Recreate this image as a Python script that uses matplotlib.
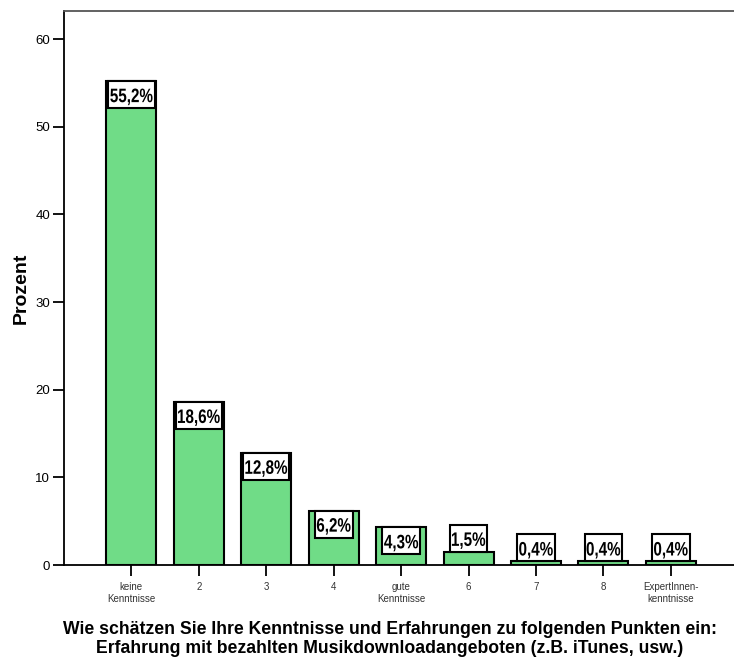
import matplotlib.pyplot as plt
from matplotlib.textpath import TextPath
from matplotlib.font_manager import FontProperties
from matplotlib.patches import PathPatch, Rectangle
from matplotlib.transforms import Affine2D, ScaledTranslation

plt.rcParams['font.family'] = ['Liberation Sans', 'DejaVu Sans']

categories = ["keine\nKenntnisse", "2", "3", "4", "gute\nKenntnisse", "6", "7", "8",
              "ExpertInnen-\nkenntnisse"]
percent = [55.2, 18.6, 12.8, 6.2, 4.3, 1.5, 0.4, 0.4, 0.4]
labels = ["55,2%", "18,6%", "12,8%", "6,2%", "4,3%", "1,5%", "0,4%", "0,4%", "0,4%"]

fig = plt.figure(figsize=(7.34, 6.64), dpi=100)
ax = fig.add_axes([64/734, 99/664, 681/734, 554/664])

x = range(len(categories))
ax.bar(x, percent, width=0.74, color="#70dc87", edgecolor="black", linewidth=1.5)

# condensed bold labels in boxes (SPSS look), sizes in pixels
fp = FontProperties(family="Liberation Sans", weight="bold")
sx = 0.78      # horizontal squeeze
box_h = 27
for i, (v, lab) in enumerate(zip(percent, labels)):
    tp = TextPath((0, 0), lab, size=19.5, prop=fp)
    ext = tp.get_extents()
    tw = ext.width * sx
    bw = tw + 4
    anchor = ScaledTranslation(i, v, ax.transData)
    if v > 3:
        y0 = -box_h
    else:
        y0 = 0
    base = y0 + 6
    ax.add_artist(Rectangle((-bw / 2, y0), bw, box_h, transform=anchor,
                            fc="white", ec="black", lw=1.5, zorder=3))
    tr = Affine2D().scale(sx, 1).translate(-tw / 2 - ext.x0 * sx, base) + anchor
    ax.add_artist(PathPatch(tp, transform=tr, fc="black", lw=0, zorder=4))

ax.set_xlim(-1, 9.1)
ax.set_ylim(0, 63.2)
ax.set_yticks([0, 10, 20, 30, 40, 50, 60])
ax.set_xticks(list(x))
ax.set_xticklabels(categories, fontsize=7, color="#333333", linespacing=1.25)
ax.tick_params(axis="y", length=8, width=1.3, labelsize=9.5, pad=2)
ax.tick_params(axis="x", length=8, width=1.3, pad=4)
ax.spines["right"].set_visible(False)
for s in ["left", "bottom", "top"]:
    ax.spines[s].set_linewidth(1.3)
ax.spines["top"].set_color("#555555")

ax.set_ylabel("Prozent", fontsize=14, fontweight="bold", labelpad=4)

fig.text(390/734, 1 - 639/664,
         "Wie schätzen Sie Ihre Kenntnisse und Erfahrungen zu folgenden Punkten ein:\n"
         "Erfahrung mit bezahlten Musikdownloadangeboten (z.B. iTunes, usw.)",
         ha="center", va="center", fontsize=12.7, fontweight="bold", linespacing=1.12)

fig.savefig("out.png", dpi=100)
